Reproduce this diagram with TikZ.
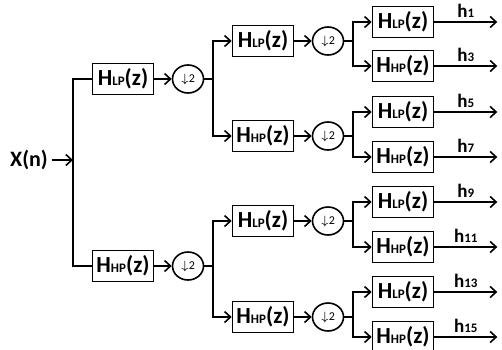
\documentclass[tikz,border=0pt]{standalone}
\usepackage{fontspec}
\setmainfont{Carlito}
\usetikzlibrary{arrows.meta,shapes.geometric}

\newcommand{\filt}[1]{H{\fontsize{6.5}{6.5}\selectfont #1}(z)}
\newcommand{\dn}{{\fontsize{6}{6}\selectfont$\downarrow$2}}
\newcommand{\hsub}[1]{h{\fontsize{6.5}{6.5}\selectfont #1}}

\begin{document}
\begin{tikzpicture}[x=0.5pt,y=-0.5pt,>={Straight Barb[length=3pt,width=5.5pt]},thick,
                    filter/.style={draw,minimum width=30.5pt,minimum height=15.5pt,inner sep=0pt,
                                   font=\bfseries\fontsize{11.5}{11.5}\selectfont},
                    down/.style={ellipse,draw,minimum width=15.5pt,minimum height=14pt,inner sep=0pt}]
  \useasboundingbox (0,0) rectangle (502,349);

  \node[font=\bfseries\fontsize{11}{11}\selectfont,inner sep=1.5pt] (xn) at (29,160) {X(n)};
  \coordinate (s0) at (73,160);

  % first stage
  \node[filter] (lp1) at (123,79) {\filt{LP}};
  \node[filter] (hp1) at (123,266) {\filt{HP}};
  \node[down] (d1) at (188,79) {\dn};
  \node[down] (d4) at (188,266) {\dn};
  \coordinate (s1) at (213,79);
  \coordinate (s4) at (213,266);

  % second stage
  \node[filter] (lp2) at (263,41) {\filt{LP}};
  \node[filter] (hp3) at (263,136) {\filt{HP}};
  \node[filter] (lp6) at (263,221) {\filt{LP}};
  \node[filter] (hp7) at (263,317) {\filt{HP}};
  \node[down] (d2) at (328,41) {\dn};
  \node[down] (d3) at (328,136) {\dn};
  \node[down] (d6) at (328,221) {\dn};
  \node[down] (d7) at (328,317) {\dn};
  \coordinate (s2) at (353,41);
  \coordinate (s3) at (353,136);
  \coordinate (s6) at (353,221);
  \coordinate (s7) at (353,317);

  % third stage
  \node[filter] (f1) at (403,22) {\filt{LP}};
  \node[filter] (f3) at (403,66) {\filt{HP}};
  \node[filter] (f5) at (403,112) {\filt{LP}};
  \node[filter] (f7) at (403,157) {\filt{HP}};
  \node[filter] (f9) at (403,202) {\filt{LP}};
  \node[filter] (f11) at (403,247) {\filt{HP}};
  \node[filter] (f13) at (403,292) {\filt{LP}};
  \node[filter] (f15) at (403,337) {\filt{HP}};

  \draw[->] (xn) -- (s0);
  \draw (s0) |- (lp1) (s0) |- (hp1);
  \draw[->] (lp1) -- (d1);
  \draw[->] (hp1) -- (d4);
  \draw (d1) -- (s1) (d4) -- (s4);
  \draw[->] (s1) |- (lp2);
  \draw[->] (s1) |- (hp3);
  \draw[->] (s4) |- (lp6);
  \draw[->] (s4) |- (hp7);

  \draw[->] (lp2) -- (d2);
  \draw[->] (hp3) -- (d3);
  \draw[->] (lp6) -- (d6);
  \draw[->] (hp7) -- (d7);
  \draw (d2) -- (s2) (d3) -- (s3) (d6) -- (s6) (d7) -- (s7);
  \draw[->] (s2) |- (f1);
  \draw[->] (s2) |- (f3);
  \draw[->] (s3) |- (f5);
  \draw[->] (s3) |- (f7);
  \draw[->] (s6) |- (f9);
  \draw[->] (s6) |- (f11);
  \draw[->] (s7) |- (f13);
  \draw[->] (s7) |- (f15);

  % outputs
  \foreach \n in {1,3,5,7,9,11,13,15} {
    \coordinate (o\n) at ([xshift=31.5pt]f\n.east);
    \draw[->] (f\n) -- (o\n)
      node[midway,above,inner sep=2pt,font=\bfseries\fontsize{9.5}{9.5}\selectfont] (h\n) {\hsub{\n}};
  }
\end{tikzpicture}
\end{document}
